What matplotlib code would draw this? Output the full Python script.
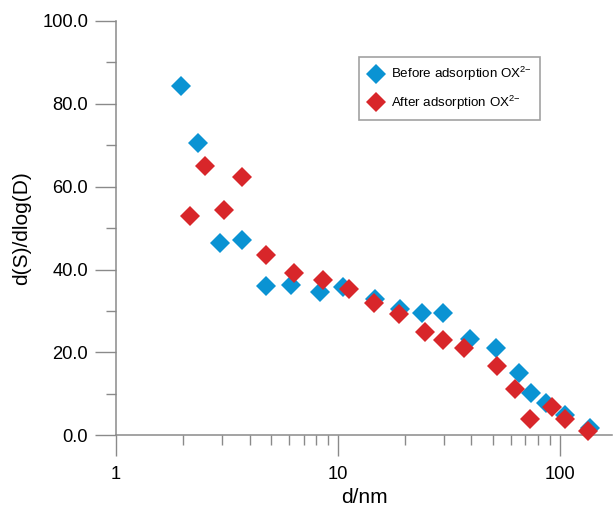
import matplotlib
matplotlib.use("Agg")
import matplotlib.pyplot as plt
from matplotlib.ticker import FixedLocator, NullFormatter, LogLocator

plt.rcParams['font.family'] = ['Liberation Sans', 'DejaVu Sans']
plt.rcParams['mathtext.fontset'] = 'custom'
plt.rcParams['mathtext.rm'] = 'Liberation Sans'
plt.rcParams['mathtext.it'] = 'Liberation Sans:italic'

# pore diameter (nm) and d(S)/dlog(D) before / after OX2- adsorption
d_before = [1.97, 2.33, 2.95, 3.70, 4.72, 6.14, 8.32, 10.6, 14.7, 19.1,
            23.9, 29.8, 39.5, 51.8, 65.3, 74.2, 87.0, 106.0, 137.4]
s_before = [84.3, 70.5, 46.3, 47.1, 36.0, 36.3, 34.7, 35.9, 32.8, 30.4,
            29.4, 29.4, 23.2, 21.0, 15.0, 10.1, 7.9, 4.9, 1.7]

d_after = [2.16, 2.52, 3.08, 3.69, 4.75, 6.35, 8.56, 11.2, 14.6, 18.8,
           24.8, 29.9, 36.9, 52.3, 63.1, 73.7, 92.3, 106.0, 133.6]
s_after = [53.0, 65.0, 54.4, 62.3, 43.4, 39.1, 37.5, 35.2, 31.9, 29.3,
           25.0, 23.0, 21.0, 16.8, 11.1, 3.9, 6.9, 3.9, 1.1]

blue = '#0a93d3'
red = '#d8262a'
grey = '#8a8a8a'

fig = plt.figure(figsize=(6.16, 5.11), dpi=100)
ax = fig.add_axes([116 / 616, 75.7 / 511, 496 / 616, 414.3 / 511])

ax.plot(d_before, s_before, 'D', color=blue, ms=10.6, mew=0, clip_on=False, zorder=3,
        label=r'Before adsorption OX$^{2{-}}$')
ax.plot(d_after, s_after, 'D', color=red, ms=10.6, mew=0, clip_on=False, zorder=4,
        label=r'After adsorption OX$^{2{-}}$')

ax.set_xscale('log')
ax.set_xlim(1, 172)
ax.set_ylim(0, 100)

ax.set_xticks([1, 10, 100])
ax.set_xticklabels(['1', '10', '100'])
ax.xaxis.set_minor_locator(LogLocator(base=10, subs=range(2, 10)))
ax.xaxis.set_minor_formatter(NullFormatter())

yt = [0, 20, 40, 60, 80, 100]
ax.set_yticks(yt)
ax.set_yticklabels([f'{v:.1f}' for v in yt])
ax.yaxis.set_minor_locator(FixedLocator([10, 30, 50, 70, 90]))

for s in ['top', 'right']:
    ax.spines[s].set_visible(False)
for s in ['left', 'bottom']:
    ax.spines[s].set_color(grey)
    ax.spines[s].set_linewidth(1.1)

ax.tick_params(which='major', length=15, width=1, color=grey, labelsize=13.2, pad=5)
ax.tick_params(which='minor', length=7.5, width=1, color=grey)
ax.tick_params(axis='x', which='major', pad=7)

ax.set_xlabel('d/nm', fontsize=15, labelpad=4)
ax.set_ylabel('d(S)/dlog(D)', fontsize=15, labelpad=8)

leg = ax.legend(loc='upper left', bbox_to_anchor=(0.49, 0.913), fontsize=9.6,
                frameon=True, fancybox=False, edgecolor=grey, handletextpad=0.4,
                borderpad=0.6, labelspacing=0.8, handlelength=1.4, borderaxespad=0)
leg.get_frame().set_linewidth(1.2)

fig.savefig('out.png', dpi=100)
